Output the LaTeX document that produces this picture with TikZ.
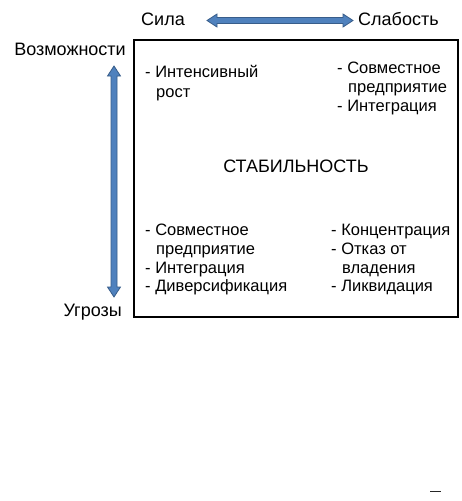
\documentclass[tikz,border=0pt]{standalone}
\usepackage{fontspec}
\setmainfont{Liberation Sans}
\definecolor{arrowfill}{RGB}{79,129,189}
\definecolor{arrowline}{RGB}{56,93,138}
\begin{document}
\begin{tikzpicture}[x=1pt,y=-1pt,
  txt/.style={inner sep=0pt, font=\fontsize{16.5}{18.6}\selectfont, text=black},
  outer/.style={inner sep=0pt, font=\fontsize{18}{20}\selectfont, text=black},
  lbl/.style={txt, anchor=base west},
  olbl/.style={outer, anchor=base west},
  olble/.style={outer, anchor=base east},
  bigarrow/.style={fill=arrowfill, draw=arrowline, line width=0.8pt, line join=miter}]
\useasboundingbox[fill=white] (0,0) rectangle (461,501);

% axis labels
\node[olbl] (sila) at (141,25) {Сила};
\node[olbl] (slab) at (358,25) {Слабость};
\node[olble] (vozm) at (126,55) {Возможности};
\node[olble] (ugroz) at (122,316) {Угрозы};

% double arrows
\draw[bigarrow] (207,20.5) -- (217,14) -- (217,17.5) -- (343,17.5) -- (343,14) -- (353,20.5)
  -- (343,27) -- (343,23.5) -- (217,23.5) -- (217,27) -- cycle;
\draw[bigarrow] (114,66) -- (120.5,76) -- (117,76) -- (117,287) -- (120.5,287) -- (114,297)
  -- (107.5,287) -- (111,287) -- (111,76) -- (107.5,76) -- cycle;

% frame
\draw[line width=2pt] (133.5,40) rectangle (457.5,317);

% top-left
\node[lbl] (tl1) at (145,77) {- Интенсивный};
\node[lbl] (tl2) at (156,97) {рост};
% top-right
\node[lbl] (tr1) at (337,73) {- Совместное};
\node[lbl] (tr2) at (348,92) {предприятие};
\node[lbl] (tr3) at (337,111) {- Интеграция};
% centre
\node[inner sep=0pt, font=\fontsize{18}{20}\selectfont, anchor=base] (stab) at (296,172) {СТАБИЛЬНОСТЬ};
% bottom-left
\node[lbl] (bl1) at (145,235) {- Совместное};
\node[lbl] (bl2) at (156,254) {предприятие};
\node[lbl] (bl3) at (145,273) {- Интеграция};
\node[lbl] (bl4) at (145,291) {- Диверсификация};
% bottom-right
\node[lbl] (br1) at (331,235) {- Концентрация};
\node[lbl] (br2) at (331,254) {- Отказ от};
\node[lbl] (br3) at (342,273) {владения};
\node[lbl] (br4) at (331,291) {- Ликвидация};

% small mark bottom right
\draw[line width=1.5pt, black!85] (430,491.5) -- (441,491.5);
\end{tikzpicture}
\end{document}
